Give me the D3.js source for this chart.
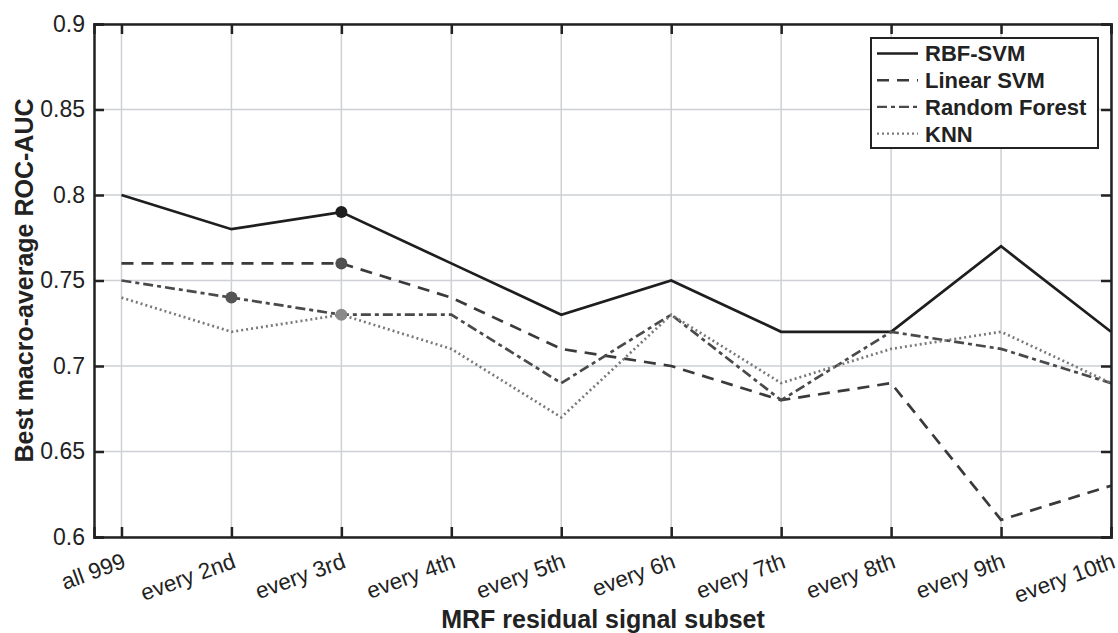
<!DOCTYPE html>
<html>
<head>
<meta charset="utf-8">
<script src="https://cdn.jsdelivr.net/npm/d3@7"></script>
<style>
  body { margin: 0; background: #fff; }
  text { font-family: "Liberation Sans", Arial, sans-serif; fill: #222; }
</style>
</head>
<body>
<div id="chart"></div>
<script>
// Set Dimensions
const width = 1118;
const height = 633;
const plotLeft = 94, plotRight = 1111, plotTop = 24, plotBottom = 537;

// Data
const categories = ["all 999", "every 2nd", "every 3rd", "every 4th", "every 5th",
  "every 6h", "every 7th", "every 8th", "every 9th", "every 10th"];
const rbfSvm = [0.80, 0.78, 0.79, 0.76, 0.73, 0.75, 0.72, 0.72, 0.77, 0.72];
const linearSvm = [0.76, 0.76, 0.76, 0.74, 0.71, 0.70, 0.68, 0.69, 0.61, 0.63];
const randomForest = [0.75, 0.74, 0.73, 0.73, 0.69, 0.73, 0.68, 0.72, 0.71, 0.69];
const knn = [0.74, 0.72, 0.73, 0.71, 0.67, 0.73, 0.69, 0.71, 0.72, 0.69];
const yTicks = [0.6, 0.65, 0.7, 0.75, 0.8, 0.85, 0.9];
// index of the best value for each series
const bestIndex = [2, 2, 1, 2];

const series = [
  { name: "RBF-SVM", values: rbfSvm, color: "#1e1e1e", dash: null, marker: "#1e1e1e" },
  { name: "Linear SVM", values: linearSvm, color: "#3a3a3a", dash: "12,8", marker: "#505050" },
  { name: "Random Forest", values: randomForest, color: "#4a4a4a", dash: "10,4,4,4", marker: "#555" },
  { name: "KNN", values: knn, color: "#7a7a7a", dash: "2,3", marker: "#8a8a8a" }
];

const svg = d3.select("#chart").append("svg")
  .attr("width", width).attr("height", height);

const x = d3.scaleLinear().domain([-0.25, 9]).range([plotLeft, plotRight]);
const y = d3.scaleLinear().domain([0.6, 0.9]).range([plotBottom, plotTop]);

// Grid
svg.append("g").selectAll("line").data(categories).join("line")
  .attr("x1", (d, i) => x(i)).attr("x2", (d, i) => x(i))
  .attr("y1", plotTop).attr("y2", plotBottom)
  .attr("stroke", "#cdd0d5").attr("stroke-width", 1.5);
svg.append("g").selectAll("line").data(yTicks).join("line")
  .attr("x1", plotLeft).attr("x2", plotRight)
  .attr("y1", d => y(d)).attr("y2", d => y(d))
  .attr("stroke", "#cdd0d5").attr("stroke-width", 1.5);

// Lines
const line = d3.line().x((d, i) => x(i)).y(d => y(d));
series.forEach((s, k) => {
  svg.append("path")
    .datum(s.values)
    .attr("d", line)
    .attr("fill", "none")
    .attr("stroke", s.color)
    .attr("stroke-width", 2.7)
    .attr("stroke-dasharray", s.dash);
});
series.forEach((s, k) => {
  const i = bestIndex[k];
  svg.append("circle")
    .attr("cx", x(i)).attr("cy", y(s.values[i]))
    .attr("r", 6).attr("fill", s.marker);
});

// Axes (box with inward ticks)
const xAxisB = svg.append("g").attr("transform", "translate(0," + plotBottom + ")")
  .call(d3.axisBottom(x).tickValues(d3.range(categories.length)).tickSize(-10).tickFormat(""));
const xAxisT = svg.append("g").attr("transform", "translate(0," + plotTop + ")")
  .call(d3.axisTop(x).tickValues(d3.range(categories.length)).tickSize(-10).tickFormat(""));
const yAxisL = svg.append("g").attr("transform", "translate(" + plotLeft + ",0)")
  .call(d3.axisLeft(y).tickValues(yTicks).tickSize(-10).tickPadding(9).tickFormat(d3.format("")));
const yAxisR = svg.append("g").attr("transform", "translate(" + plotRight + ",0)")
  .call(d3.axisRight(y).tickValues(yTicks).tickSize(-10).tickFormat(""));
[xAxisB, xAxisT, yAxisL, yAxisR].forEach(g => {
  g.select(".domain").attr("stroke", "#222").attr("stroke-width", 2.5);
  g.selectAll(".tick line").attr("stroke", "#222").attr("stroke-width", 2.5);
});
yAxisL.selectAll(".tick text").attr("font-size", 23).attr("fill", "#333")
  .style("font-family", "Liberation Sans, Arial, sans-serif");

// Rotated category labels
svg.append("g").selectAll("text").data(categories).join("text")
  .attr("transform", (d, i) => "translate(" + x(i) + "," + (plotBottom + 15) + ") rotate(-20)")
  .attr("text-anchor", "end")
  .attr("dy", "0.72em")
  .attr("font-size", 22.5)
  .attr("fill", "#333")
  .text(d => d);

// Axis titles
svg.append("text")
  .attr("x", 603).attr("y", 628)
  .attr("text-anchor", "middle")
  .attr("font-size", 25).attr("font-weight", "bold")
  .text("MRF residual signal subset");
svg.append("text")
  .attr("transform", "translate(33," + ((plotTop + plotBottom) / 2) + ") rotate(-90)")
  .attr("text-anchor", "middle")
  .attr("font-size", 25).attr("font-weight", "bold")
  .text("Best macro-average ROC-AUC");

// Legend
const legend = svg.append("g").attr("transform", "translate(871,38)");
legend.append("rect")
  .attr("width", 227).attr("height", 110)
  .attr("fill", "#fff").attr("stroke", "#222").attr("stroke-width", 2);
series.forEach((s, k) => {
  const ly = 15.5 + k * 26.7;
  legend.append("line")
    .attr("x1", 6).attr("x2", 47).attr("y1", ly).attr("y2", ly)
    .attr("stroke", s.color).attr("stroke-width", 2.4)
    .attr("stroke-dasharray", s.dash);
  legend.append("text")
    .attr("x", 54).attr("y", ly).attr("dy", "0.36em")
    .attr("font-size", 22).attr("font-weight", "bold")
    .text(s.name);
});
</script>
</body>
</html>
